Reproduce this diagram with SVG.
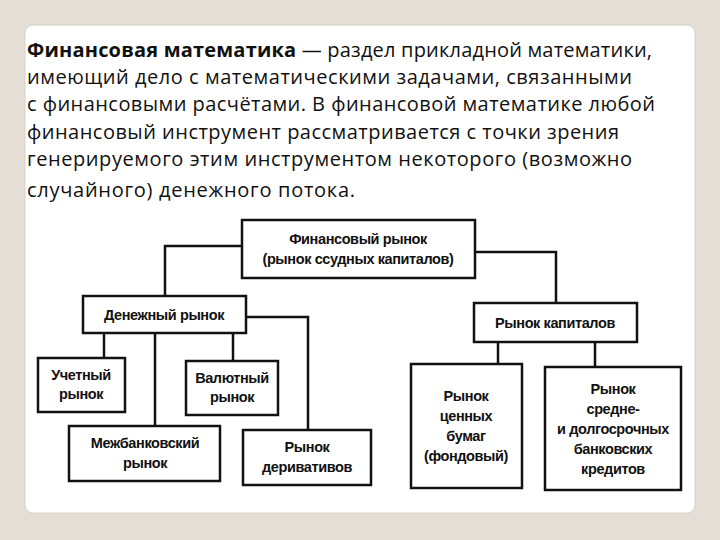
<svg xmlns="http://www.w3.org/2000/svg" width="720" height="540" viewBox="0 0 720 540">
<style>
.b{fill:#fff;stroke:#111;stroke-width:2.5}
.t{font-family:"Liberation Sans",Arial,sans-serif;font-weight:bold;font-size:14.5px;fill:#111;text-anchor:middle;letter-spacing:-0.4px}
.p{font-family:"Open Sans","Liberation Sans",sans-serif;font-size:20px;fill:#111}
.c{fill:none;stroke:#111;stroke-width:2.5}
</style>
<rect width="720" height="540" fill="#e4ded6"/>
<rect x="25" y="25" width="670" height="488" rx="8" fill="#fff" stroke="#d8d2ca"/>
<g class="p">
<text x="27" y="57" textLength="625"><tspan font-weight="bold">Финансовая математика</tspan> — раздел прикладной математики,</text>
<text x="27" y="84" textLength="605">имеющий дело с математическими задачами, связанными</text>
<text x="27" y="111" textLength="628">с финансовыми расчётами. В финансовой математике любой</text>
<text x="27" y="139" textLength="592">финансовый инструмент рассматривается с точки зрения</text>
<text x="27" y="166" textLength="605">генерируемого этим инструментом некоторого (возможно</text>
<text x="27" y="197" textLength="328">случайного) денежного потока.</text>
</g>
<g id="connectors" class="c">
<polyline points="242,246 165,246 165,296"/>
<polyline points="475,252 556,252 556,303"/>
<line x1="104" y1="333" x2="104" y2="358"/>
<line x1="155" y1="333" x2="155" y2="426"/>
<line x1="233" y1="333" x2="233" y2="361"/>
<polyline points="246,317 308,317 308,430"/>
<line x1="498" y1="342" x2="498" y2="364"/>
<line x1="595" y1="342" x2="595" y2="367"/>
</g>
<g id="n1"><rect class="b" x="242" y="220" width="233" height="58"/><text class="t" x="358" y="244">Финансовый рынок</text><text class="t" x="358" y="264">(рынок ссудных капиталов)</text></g>
<g id="n2"><rect class="b" x="83" y="296" width="163" height="37"/><text class="t" x="164" y="320">Денежный рынок</text></g>
<g id="n3"><rect class="b" x="474" y="303" width="163" height="39"/><text class="t" x="555" y="328">Рынок капиталов</text></g>
<g id="n4"><rect class="b" x="38" y="358" width="87" height="54"/><text class="t" x="81" y="380">Учетный</text><text class="t" x="81" y="399">рынок</text></g>
<g id="n5"><rect class="b" x="186" y="361" width="92" height="54"/><text class="t" x="232" y="383">Валютный</text><text class="t" x="232" y="402">рынок</text></g>
<g id="n6"><rect class="b" x="69" y="426" width="151" height="55"/><text class="t" x="145" y="448">Межбанковский</text><text class="t" x="145" y="468">рынок</text></g>
<g id="n7"><rect class="b" x="243" y="430" width="128" height="55"/><text class="t" x="307" y="452">Рынок</text><text class="t" x="307" y="472">деривативов</text></g>
<g id="n8"><rect class="b" x="411" y="364" width="111" height="124"/><text class="t" x="466" y="401">Рынок</text><text class="t" x="466" y="421">ценных</text><text class="t" x="466" y="441">бумаг</text><text class="t" x="466" y="461">(фондовый)</text></g>
<g id="n9"><rect class="b" x="545" y="367" width="136" height="123"/><text class="t" x="613" y="394">Рынок</text><text class="t" x="613" y="414">средне-</text><text class="t" x="613" y="434">и долгосрочных</text><text class="t" x="613" y="454">банковских</text><text class="t" x="613" y="474">кредитов</text></g>
</svg>
